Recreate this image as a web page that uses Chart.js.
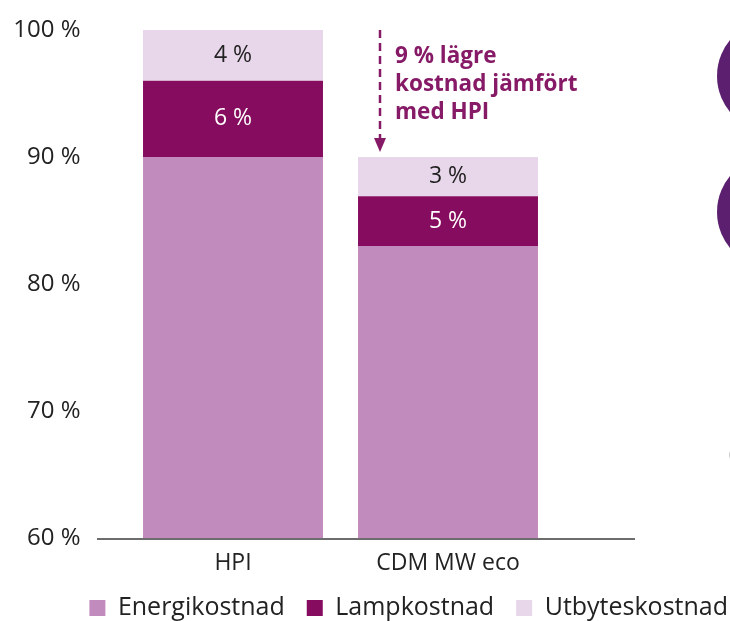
<!DOCTYPE html>
<html>
<head>
<meta charset="utf-8">
<script src="https://cdn.jsdelivr.net/npm/chart.js@4"></script>
<style>
  html, body { margin: 0; padding: 0; background: #fff; }
  canvas { display: block; }
</style>
</head>
<body>
<canvas id="chart" width="730" height="621"></canvas>
<script>
// kategorier och värden
const categories = ['HPI', 'CDM MW eco'];
const energi = [90, 83];
const lamp = [6, 3.9];
const utbyte = [4, 3.1];
const energiLabels = ['90 %', '83 %'];
const lampLabels = ['6 %', '5 %'];
const utbyteLabels = ['4 %', '3 %'];
const yTicks = [60, 70, 80, 90, 100];
const note = ['9 % lägre', 'kostnad jämfört', 'med HPI'];

const FONT = '"Open Sans", "Noto Sans", sans-serif';
const segLabels = [energiLabels, lampLabels, utbyteLabels];
const segColors = ['#222', '#fff', '#222'];

// etiketter inne i staplarna
const barText = {
  id: 'barText',
  afterDatasetsDraw(chart) {
    const ctx = chart.ctx;
    ctx.save();
    ctx.font = '23px ' + FONT;
    ctx.textAlign = 'center';
    ctx.textBaseline = 'middle';
    chart.data.datasets.forEach((ds, i) => {
      chart.getDatasetMeta(i).data.forEach((bar, j) => {
        const top = bar.y, bottom = bar.base;
        const f = i === 0 ? 0.46 : 0.5;
        ctx.fillStyle = segColors[i];
        ctx.fillText(segLabels[i][j], bar.x, top + (bottom - top) * f);
      });
    });
    ctx.restore();
  }
};

// flytta upp legenden lite
const legendShift = {
  id: 'legendShift',
  afterLayout(chart) {
    chart.legend.top -= 4.5;
  }
};

// axellinje, pil, text och cirklar i kanten
const extras = {
  id: 'extras',
  afterDraw(chart) {
    const ctx = chart.ctx;
    const y = chart.scales.y;
    const base = y.getPixelForValue(60);
    ctx.save();
    ctx.strokeStyle = '#6d6d6d';
    ctx.lineWidth = 2;
    ctx.beginPath();
    ctx.moveTo(97, base + 1);
    ctx.lineTo(635, base + 1);
    ctx.stroke();

    // streckad pil
    const top = y.getPixelForValue(100);
    const tip = y.getPixelForValue(90) - 5;
    ctx.strokeStyle = '#861a66';
    ctx.fillStyle = '#861a66';
    ctx.lineWidth = 2.5;
    ctx.setLineDash([8, 5]);
    ctx.beginPath();
    ctx.moveTo(380, top);
    ctx.lineTo(380, tip - 12);
    ctx.stroke();
    ctx.setLineDash([]);
    ctx.beginPath();
    ctx.moveTo(374, tip - 14);
    ctx.lineTo(386, tip - 14);
    ctx.lineTo(380, tip);
    ctx.closePath();
    ctx.fill();

    ctx.font = 'bold 22.5px ' + FONT;
    ctx.textAlign = 'left';
    ctx.textBaseline = 'middle';
    note.forEach((t, i) => ctx.fillText(t, 395, 57 + i * 28));

    ctx.fillStyle = '#5c1f6f';
    [76, 212].forEach(cy => {
      ctx.beginPath();
      ctx.arc(773, cy, 56, 0, Math.PI * 2);
      ctx.fill();
    });
    ctx.fillStyle = '#c8c8c8';
    ctx.beginPath();
    ctx.arc(736, 455, 7, 0, Math.PI * 2);
    ctx.fill();
    ctx.restore();
  }
};

new Chart(document.getElementById('chart'), {
  type: 'bar',
  data: {
    labels: categories,
    datasets: [
      { label: 'Energikostnad', data: energi, backgroundColor: '#c28bbd' },
      { label: 'Lampkostnad', data: lamp, backgroundColor: '#860c5f' },
      { label: 'Utbyteskostnad', data: utbyte, backgroundColor: '#e8d6ea' }
    ]
  },
  options: {
    responsive: false,
    animation: false,
    layout: { padding: { top: 30, left: 0, right: -20, bottom: 0 } },
    datasets: { bar: { barPercentage: 0.837, categoryPercentage: 1, borderWidth: 0 } },
    scales: {
      x: {
        stacked: true,
        afterFit: s => { s.height = 40; },
        grid: { display: false, drawTicks: false },
        border: { display: false },
        ticks: { color: '#222', font: { family: FONT, size: 23 }, padding: 12 }
      },
      y: {
        stacked: true,
        min: 60,
        max: 100,
        afterBuildTicks: s => { s.ticks = yTicks.map(v => ({ value: v })); },
        afterFit: s => { s.width = 125.5; s.paddingTop = 0; s.paddingBottom = 0; },
        grid: { display: false, drawTicks: false },
        border: { display: false },
        ticks: {
          color: '#222',
          font: { family: FONT, size: 24 },
          padding: 45,
          callback: v => v + ' %'
        }
      },
      right: {
        position: 'right',
        afterFit: s => { s.width = 194.5; s.paddingTop = 0; s.paddingBottom = 0; },
        grid: { display: false, drawTicks: false },
        border: { display: false },
        ticks: { display: false }
      }
    },
    plugins: {
      tooltip: { enabled: false },
      legend: {
        position: 'bottom',
        align: 'end',
        maxHeight: 43,
        labels: {
          color: '#222',
          font: { family: FONT, size: 25 },
          boxWidth: 16,
          boxHeight: 16,
          padding: 22
        }
      }
    }
  },
  plugins: [barText, legendShift, extras]
});
</script>
</body>
</html>
